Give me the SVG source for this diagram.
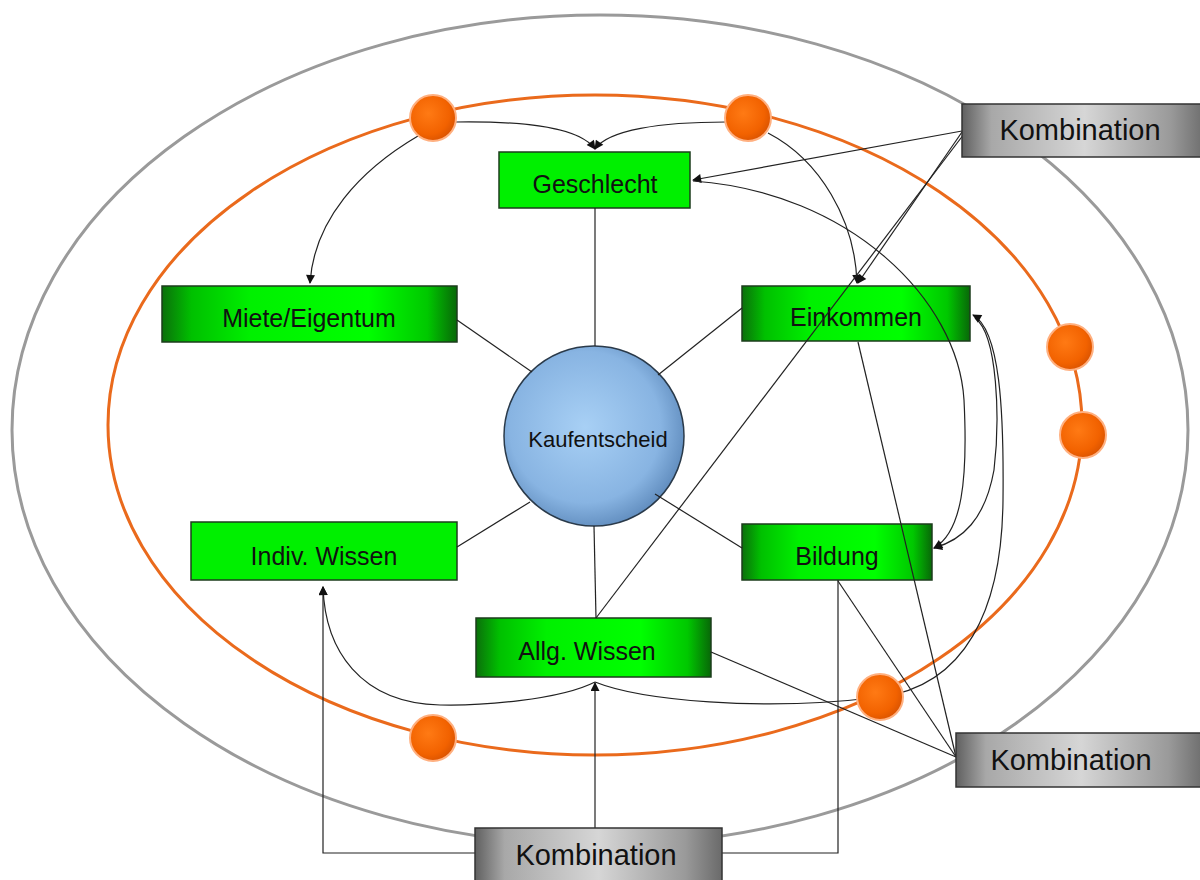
<svg xmlns="http://www.w3.org/2000/svg" width="1200" height="880" viewBox="0 0 1200 880">
<defs>
<style>
.box{stroke:#1d3d1d;stroke-width:1.5}
.solid{fill:#00f000}
.grad{fill:url(#gGreen)}
.gt{font-family:"Liberation Sans",Arial,sans-serif;font-size:25px;fill:#111;text-anchor:middle}
.kt{font-family:"Liberation Sans",Arial,sans-serif;font-size:29px;fill:#111;text-anchor:middle}
.komb{fill:url(#gGray);stroke:#333;stroke-width:1.5}
.ln{fill:none;stroke:#222;stroke-width:1.2}
.arr{marker-end:url(#ah)}
.ball{fill:url(#gBall);stroke:#ffb080;stroke-width:2}
</style>
<marker id="ah" viewBox="0 0 10 10" refX="9" refY="5" markerWidth="11" markerHeight="9" markerUnits="userSpaceOnUse" orient="auto">
<path d="M0,0 L10,5 L0,10 z" fill="#111"/>
</marker>
<linearGradient id="gGreen" x1="0" y1="0" x2="1" y2="0">
<stop offset="0" stop-color="#0b700b"/>
<stop offset="0.1" stop-color="#00c000"/>
<stop offset="0.3" stop-color="#00f000"/>
<stop offset="0.7" stop-color="#00ff00"/>
<stop offset="0.9" stop-color="#00c800"/>
<stop offset="1" stop-color="#086808"/>
</linearGradient>
<linearGradient id="gGray" x1="0" y1="0" x2="1" y2="0">
<stop offset="0" stop-color="#606060"/>
<stop offset="0.12" stop-color="#a8a8a8"/>
<stop offset="0.5" stop-color="#d6d6d6"/>
<stop offset="0.85" stop-color="#9a9a9a"/>
<stop offset="1" stop-color="#6a6a6a"/>
</linearGradient>
<radialGradient id="gBall" cx="0.4" cy="0.4" r="0.65">
<stop offset="0" stop-color="#ff7a14"/>
<stop offset="0.7" stop-color="#f26200"/>
<stop offset="1" stop-color="#d85200"/>
</radialGradient>
<radialGradient id="gBlue" cx="0.45" cy="0.45" r="0.6">
<stop offset="0" stop-color="#a8d0f5"/>
<stop offset="0.7" stop-color="#88b4e2"/>
<stop offset="1" stop-color="#5a86b8"/>
</radialGradient>
</defs>
<rect width="1200" height="880" fill="#fff"/>
<g id="rings">
<ellipse cx="600" cy="430" rx="588" ry="415" fill="none" stroke="#9a9a9a" stroke-width="3"/>
<ellipse cx="595" cy="425" rx="487" ry="330" fill="none" stroke="#ea6a1c" stroke-width="3"/>
</g>
<g id="geschlecht"><rect class="box solid" x="499" y="152" width="191" height="56"/><text class="gt" x="595" y="193">Geschlecht</text></g>
<g id="miete"><rect class="box grad" x="162" y="286" width="295" height="56"/><text class="gt" x="309" y="327">Miete/Eigentum</text></g>
<g id="einkommen"><rect class="box grad" x="742" y="286" width="228" height="55"/><text class="gt" x="856" y="326">Einkommen</text></g>
<g id="bildung"><rect class="box grad" x="742" y="524" width="190" height="56"/><text class="gt" x="837" y="565">Bildung</text></g>
<g id="indiv"><rect class="box solid" x="191" y="522" width="266" height="58"/><text class="gt" x="324" y="565">Indiv. Wissen</text></g>
<g id="allg"><rect class="box grad" x="476" y="618" width="235" height="59"/><text class="gt" x="587" y="660">Allg. Wissen</text></g>
<g id="kaufentscheid"><circle cx="594" cy="436" r="90" fill="url(#gBlue)" stroke="#2a3a4a" stroke-width="1.5"/><text x="598" y="447" font-family="'Liberation Sans',Arial,sans-serif" font-size="22" fill="#111" text-anchor="middle">Kaufentscheid</text></g>
<g id="connectors">
<line class="ln" x1="595" y1="208" x2="595" y2="346"/>
<line class="ln" x1="457" y1="320" x2="532" y2="372"/>
<line class="ln" x1="742" y1="308" x2="658" y2="375"/>
<line class="ln" x1="457" y1="547" x2="530" y2="502"/>
<line class="ln" x1="742" y1="548" x2="655" y2="494"/>
<line class="ln" x1="594" y1="526" x2="596" y2="618"/>
<path class="ln arr" d="M456,122 C530,121 580,128 595,149"/>
<path class="ln arr" d="M726,122 C660,122 608,130 595,149"/>
<path class="ln arr" d="M418,136 C360,170 314,220 310,283"/>
<path class="ln arr" d="M768,133 C820,160 855,220 857,283"/>
<line class="ln arr" x1="962" y1="131" x2="693" y2="180"/>
<line class="ln arr" x1="962" y1="132" x2="858" y2="283"/>
<line class="ln" x1="964" y1="134" x2="596" y2="618"/>
<path class="ln arr" d="M693,181 C850,192 958,300 964,400 C968,480 962,532 934,548"/>
<path class="ln arr" d="M975,318 C998,335 1000,420 994,470 C985,520 962,540 934,548"/>
<path class="ln arr" d="M595,682 C640,700 760,712 880,697 C965,686 1002,610 1003,500 C1004,410 1000,330 973,315"/>
<path class="ln arr" d="M595,682 C560,700 480,706 440,705 C360,703 325,650 323,587"/>
<path class="ln arr" d="M475,853 H323 V587"/>
<path class="ln" d="M722,853 H838 V580"/>
<line class="ln arr" x1="595" y1="828" x2="595" y2="683"/>
<line class="ln" x1="956" y1="757" x2="711" y2="652"/>
<line class="ln" x1="956" y1="757" x2="838" y2="581"/>
<line class="ln" x1="956" y1="757" x2="858" y2="342"/>
</g>
<g id="balls">
<circle class="ball" cx="433" cy="118" r="23"/>
<circle class="ball" cx="748" cy="118" r="23"/>
<circle class="ball" cx="1070" cy="347" r="23"/>
<circle class="ball" cx="1083" cy="435" r="23"/>
<circle class="ball" cx="880" cy="697" r="23"/>
<circle class="ball" cx="433" cy="738" r="23"/>
</g>
<g id="komb-top"><rect class="komb" x="962" y="104" width="245" height="53"/><text class="kt" x="1080" y="140">Kombination</text></g>
<g id="komb-right"><rect class="komb" x="956" y="733" width="250" height="54"/><text class="kt" x="1071" y="770">Kombination</text></g>
<g id="komb-bottom"><rect class="komb" x="475" y="828" width="247" height="60"/><text class="kt" x="596" y="865">Kombination</text></g>
</svg>
